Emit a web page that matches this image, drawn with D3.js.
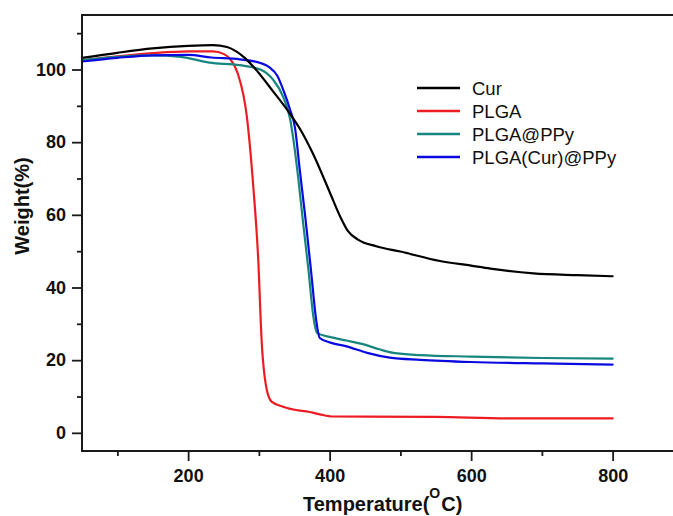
<!DOCTYPE html>
<html>
<head>
<meta charset="utf-8">
<script src="https://cdn.jsdelivr.net/npm/d3@7"></script>
<style>
  html, body { margin: 0; padding: 0; background: #fff; }
  svg { display: block; font-family: "Liberation Sans", Arial, sans-serif; }
</style>
</head>
<body>
<svg id="chart" width="673" height="516"></svg>
<script>
// ---- Data ----
const seriesNames = ["Cur", "PLGA", "PLGA@PPy", "PLGA(Cur)@PPy"];
const seriesColors = ["#000000", "#ec1c24", "#17867f", "#0a0ae0"];

const curT = [50, 100, 150, 200, 235, 255, 268, 280, 292, 320, 344, 360, 376, 400, 415, 426, 440, 467, 500, 556, 600, 627, 688, 750, 800];
const curW = [103.2, 104.6, 105.8, 106.5, 106.7, 106.2, 105, 103.2, 100.8, 94, 87.8, 83, 77, 66.3, 59.5, 55.5, 53.2, 51.3, 49.9, 47.3, 46, 45.2, 43.9, 43.4, 43.1];

const plgaT = [50, 100, 150, 200, 235, 250, 259, 270, 283, 292, 299, 304, 311, 318, 334, 358, 370, 386, 405, 550, 650, 800];
const plgaW = [102.5, 103.6, 104.5, 105, 105, 104.3, 103, 99, 87, 68, 48, 25, 12, 8.6, 7.2, 6.1, 5.8, 5.1, 4.5, 4.4, 4.0, 4.0];

const ppyT = [50, 100, 150, 190, 230, 273, 302, 320, 334, 344, 350, 356, 362, 370, 377, 382, 400, 424, 447, 470, 490, 528, 600, 700, 800];
const ppyW = [102.6, 103.5, 103.9, 103.5, 101.9, 101.2, 100, 97.2, 92.6, 86.5, 79, 69.5, 58.7, 45, 32, 27.5, 26.4, 25.4, 24.4, 23, 22, 21.4, 21, 20.6, 20.4];

const curPpyT = [50, 100, 150, 200, 233, 273, 302, 315, 326, 336, 344, 351, 358, 366, 374, 381, 386, 400, 424, 453, 485, 528, 600, 700, 800];
const curPpyW = [102.2, 103.2, 103.9, 104, 103.3, 102.8, 101.8, 100.6, 98.3, 93.6, 89, 84, 72, 58.7, 44, 31, 26.1, 24.9, 23.8, 22, 20.7, 20.1, 19.5, 19.1, 18.8];

const xMajorTicks = [200, 400, 600, 800];
const xMinorTicks = [100, 300, 500, 700];
const yMajorTicks = [0, 20, 40, 60, 80, 100];
const yMinorTicks = [10, 30, 50, 70, 90, 110];

const xTitle = "Temperature(";
const xTitleSup = "O";
const xTitleEnd = "C)";
const yTitle = "Weight(%)";

// ---- Layout ----
const svg = d3.select("#chart");
const mLeft = 82, mTop = 15, mBottom = 451, mRight = 683.4;

const x = d3.scaleLinear().domain([50, 900]).range([mLeft, mRight]);
const y = d3.scaleLinear().domain([-5, 115]).range([mBottom, mTop]);

const series = [
  { name: seriesNames[0], color: seriesColors[0], T: curT, W: curW },
  { name: seriesNames[1], color: seriesColors[1], T: plgaT, W: plgaW },
  { name: seriesNames[2], color: seriesColors[2], T: ppyT, W: ppyW },
  { name: seriesNames[3], color: seriesColors[3], T: curPpyT, W: curPpyW }
];

const line = d3.line()
  .x(d => x(d[0]))
  .y(d => y(d[1]))
  .curve(d3.curveMonotoneX);

// curves (draw Cur on top, teal under blue)
const drawOrder = [1, 2, 3, 0];
drawOrder.forEach(i => {
  const s = series[i];
  const pts = s.T.map((t, k) => [t, s.W[k]]);
  svg.append("path")
    .attr("d", line(pts))
    .attr("fill", "none")
    .attr("stroke", s.color)
    .attr("stroke-width", 2.2)
    .attr("stroke-linejoin", "round")
    .attr("stroke-linecap", "round");
});

// frame
svg.append("rect")
  .attr("x", mLeft).attr("y", mTop)
  .attr("width", mRight - mLeft).attr("height", mBottom - mTop)
  .attr("fill", "none").attr("stroke", "#1a1a1a").attr("stroke-width", 2);

// axes
const tickFont = "bold 18px 'Liberation Sans', Arial, sans-serif";

const xAxis = svg.append("g").attr("transform", `translate(0,${mBottom})`)
  .call(d3.axisBottom(x).tickValues(xMajorTicks).tickSize(10).tickPadding(8).tickFormat(d3.format("d")));
const xAxisMinor = svg.append("g").attr("transform", `translate(0,${mBottom})`)
  .call(d3.axisBottom(x).tickValues(xMinorTicks).tickSize(5).tickFormat(""));
const yAxis = svg.append("g").attr("transform", `translate(${mLeft},0)`)
  .call(d3.axisLeft(y).tickValues(yMajorTicks).tickSize(10).tickPadding(6).tickFormat(d3.format("d")));
const yAxisMinor = svg.append("g").attr("transform", `translate(${mLeft},0)`)
  .call(d3.axisLeft(y).tickValues(yMinorTicks).tickSize(5).tickFormat(""));

[xAxis, xAxisMinor, yAxis, yAxisMinor].forEach(g => {
  g.select(".domain").remove();
  g.selectAll(".tick line").attr("stroke", "#1a1a1a").attr("stroke-width", 1.8);
  g.selectAll(".tick text").style("font", tickFont).attr("fill", "#111");
});

// axis titles
const xt = svg.append("text")
  .attr("x", 303).attr("y", 511)
  .style("font", "bold 20px 'Liberation Sans', Arial, sans-serif")
  .attr("fill", "#111");
xt.append("tspan").text(xTitle);
xt.append("tspan").text(xTitleSup).attr("dy", -13).style("font-size", "14px");
xt.append("tspan").text(xTitleEnd).attr("dy", 13).attr("dx", 1);

svg.append("text")
  .attr("transform", "translate(29,206) rotate(-90)")
  .attr("text-anchor", "middle")
  .style("font", "bold 20px 'Liberation Sans', Arial, sans-serif")
  .attr("fill", "#111")
  .text(yTitle);

// legend
const legend = svg.append("g").attr("transform", "translate(417,88)");
series.forEach((s, i) => {
  const g = legend.append("g").attr("transform", `translate(0,${i * 23})`);
  g.append("line").attr("x1", 0).attr("x2", 43).attr("y1", 0).attr("y2", 0)
    .attr("stroke", s.color).attr("stroke-width", 2.4);
  g.append("text").attr("x", 55).attr("y", 6.5)
    .style("font", "18.5px 'Liberation Sans', Arial, sans-serif")
    .attr("fill", "#111")
    .text(s.name);
});
</script>
</body>
</html>
